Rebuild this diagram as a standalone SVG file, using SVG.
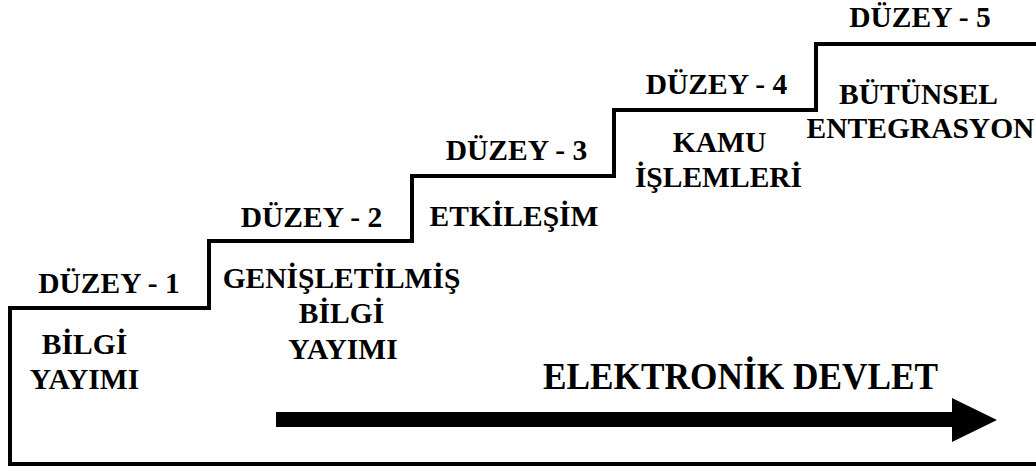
<svg xmlns="http://www.w3.org/2000/svg" width="1036" height="468" viewBox="0 0 1036 468">
  <style>
    .t { font-family: "Liberation Serif", "Times New Roman", serif; font-weight: bold; font-size: 29.5px; fill: #000; text-anchor: middle; }
    .big { font-size: 37px; }
    .stair { fill: none; stroke: #000; stroke-width: 4; stroke-linejoin: miter; }
  </style>
  <rect width="1036" height="468" fill="#fff"/>
  <g id="staircase">
    <path class="stair" d="M1036,464 H10 V308 H209 V241 H412 V176 H614 V110 H816 V44 H1036"/>
  </g>
  <g id="level1">
    <text class="t" x="109" y="293">DÜZEY - 1</text>
    <text class="t" x="84.5" y="354">BİLGİ</text>
    <text class="t" x="84.5" y="389">YAYIMI</text>
  </g>
  <g id="level2">
    <text class="t" x="311.5" y="227">DÜZEY - 2</text>
    <text class="t" x="341.5" y="288">GENİŞLETİLMİŞ</text>
    <text class="t" x="341.5" y="323">BİLGİ</text>
    <text class="t" x="343" y="359">YAYIMI</text>
  </g>
  <g id="level3">
    <text class="t" x="516.5" y="160">DÜZEY - 3</text>
    <text class="t" x="514" y="226">ETKİLEŞİM</text>
  </g>
  <g id="level4">
    <text class="t" x="716.5" y="94">DÜZEY - 4</text>
    <text class="t" x="719.5" y="152">KAMU</text>
    <text class="t" x="718.5" y="187">İŞLEMLERİ</text>
  </g>
  <g id="level5">
    <text class="t" x="920" y="27">DÜZEY - 5</text>
    <text class="t" x="918.5" y="104">BÜTÜNSEL</text>
    <text class="t" x="920.5" y="138">ENTEGRASYON</text>
  </g>
  <g id="connectors">
    <path d="M276,412 H952 V398 L997,420 L952,442 V427 H276 Z" fill="#000"/>
  </g>
  <g id="title">
    <text class="t big" x="740.5" y="389" textLength="395" lengthAdjust="spacingAndGlyphs">ELEKTRONİK DEVLET</text>
  </g>
</svg>
